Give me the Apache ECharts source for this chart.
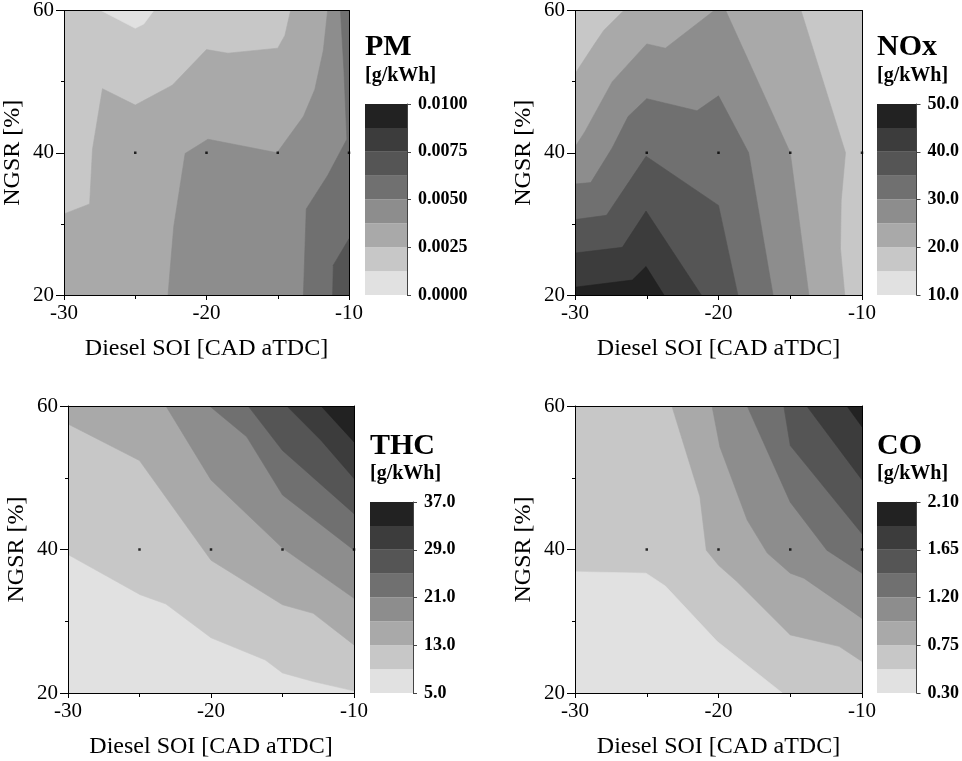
<!DOCTYPE html>
<html>
<head>
<meta charset="utf-8">
<script src="https://cdn.jsdelivr.net/npm/echarts@6/dist/echarts.min.js"></script>
<style>
html,body{margin:0;padding:0;background:#fff;}
#chart{width:962px;height:761px;}
</style>
</head>
<body>
<div id="chart"></div>
<script>
// ---------------- data ----------------
const X_VALUES = [-30, -20, -10];
const X_TICKS = ['-30', '-20', '-10'];
const Y_VALUES = [20, 40, 60];
const Y_TICKS = ['20', '40', '60'];
const X_NAME = 'Diesel SOI [CAD aTDC]';
const Y_NAME = 'NGSR [%]';
const UNIT = '[g/kWh]';
const MEASURED_POINTS = [[-25, 40], [-20, 40], [-15, 40], [-10, 40]];

// 8 grey levels, lightest (lowest value) first
const LEVEL_COLORS = ['#e1e1e1', '#c7c7c7', '#a9a9a9', '#8d8d8d', '#707070', '#555555', '#3c3c3c', '#222222'];

const PM_EDGES = [0, 0.00125, 0.0025, 0.00375, 0.005, 0.00625, 0.0075, 0.00875, 0.01];
const PM_TICKS = ['0.0000', '0.0025', '0.0050', '0.0075', '0.0100'];
const NOX_EDGES = [10, 15, 20, 25, 30, 35, 40, 45, 50];
const NOX_TICKS = ['10.0', '20.0', '30.0', '40.0', '50.0'];
const THC_EDGES = [5, 9, 13, 17, 21, 25, 29, 33, 37];
const THC_TICKS = ['5.0', '13.0', '21.0', '29.0', '37.0'];
const CO_EDGES = [0.3, 0.525, 0.75, 0.975, 1.2, 1.425, 1.65, 1.875, 2.1];
const CO_TICKS = ['0.30', '0.75', '1.20', '1.65', '2.10'];

// contour regions: [level, polygon in (SOI, NGSR)], painted in order
const PM_REGIONS = [
  [1, [[-30,20],[-10,20],[-10,60],[-30,60]]],
  [0, [[-27.4,60],[-25,57.5],[-24.4,58.1],[-23.7,60]]],
  [2, [[-30,31.4],[-28.2,32.8],[-28.0,40.5],[-27.3,49.0],[-25.0,46.7],[-22.4,49.5],[-20.0,54.5],[-18.5,54.0],[-15.0,54.7],[-14.5,56.5],[-14.1,60],[-10,60],[-10,20],[-30,20]]],
  [3, [[-22.7,20],[-22.3,29.6],[-21.5,39.9],[-19.9,41.9],[-15.05,40.0],[-13.2,45.1],[-12.4,48.9],[-11.8,54.4],[-11.5,60],[-10,60],[-10,20]]],
  [4, [[-13.2,20],[-13.0,32.1],[-11.5,36.8],[-10.15,41.9],[-10.35,51.4],[-10.6,60],[-10,60],[-10,20]]],
  [5, [[-11.15,20],[-11.1,24.2],[-10,27.9],[-10,20]]]
];

const NOX_REGIONS = [
  [1, [[-30,20],[-10,20],[-10,60],[-30,60]]],
  [2, [[-30,51.1],[-28.7,55.1],[-28.0,57.2],[-26.6,60],[-14.25,60],[-11.15,40],[-11.45,33.3],[-11.5,26.5],[-11.2,20],[-30,20]]],
  [3, [[-30,40.8],[-29.3,43.0],[-27.4,50.0],[-25.0,55.3],[-23.7,54.7],[-20.3,60],[-19.5,60],[-15.0,40.0],[-13.7,20],[-30,20]]],
  [4, [[-30,35.6],[-28.9,35.8],[-27.4,40.7],[-26.3,45.1],[-25.0,47.6],[-21.5,45.9],[-20.0,48.0],[-17.9,40.0],[-16.2,20],[-30,20]]],
  [5, [[-30,30.6],[-27.8,31.2],[-25.05,39.5],[-20.0,32.6],[-18.65,20],[-30,20]]],
  [6, [[-30,25.9],[-26.7,26.7],[-25.05,31.8],[-21.2,20],[-30,20]]],
  [7, [[-30,21.1],[-26.0,22.1],[-25.05,24.0],[-23.8,20],[-30,20]]]
];

const THC_REGIONS = [
  [0, [[-30,20],[-10,20],[-10,60],[-30,60]]],
  [1, [[-30,39.3],[-24.95,33.7],[-23.15,32.4],[-20.0,27.7],[-16.2,24.6],[-15.0,22.8],[-12.85,21.6],[-10,20.3],[-10,60],[-30,60]]],
  [2, [[-30,57.5],[-25.0,52.4],[-20.0,38.5],[-15.0,32.3],[-12.85,31.1],[-10,26.7],[-10,60],[-30,60]]],
  [3, [[-23.15,60],[-20.0,49.7],[-15.0,40.2],[-10,33.2],[-10,60]]],
  [4, [[-20.1,60],[-17.5,55.7],[-15.0,47.6],[-10,39.9],[-10,60]]],
  [5, [[-17.4,60],[-15.0,53.8],[-10,45.0],[-10,60]]],
  [6, [[-14.7,60],[-12.3,55.2],[-10,49.9],[-10,60]]],
  [7, [[-12.3,60],[-10,55.0],[-10,60]]]
];

const CO_REGIONS = [
  [1, [[-30,20],[-10,20],[-10,60],[-30,60]]],
  [0, [[-30,20],[-30,36.9],[-25.05,36.7],[-23.7,34.9],[-20.1,27.2],[-15.55,20]]],
  [2, [[-23.25,60],[-21.3,47.4],[-20.85,39.9],[-20.0,37.8],[-18.7,35.5],[-15.0,28.1],[-11.6,26.5],[-10,24.4],[-10,60]]],
  [3, [[-20.45,60],[-19.9,54.3],[-18.0,44.1],[-16.6,39.5],[-15.0,36.7],[-14.05,36.0],[-10,30.4],[-10,60]]],
  [4, [[-18.0,60],[-15.0,46.6],[-12.45,39.9],[-10,36.7],[-10,60]]],
  [5, [[-15.45,60],[-15.0,54.5],[-10,42.2],[-10,60]]],
  [6, [[-13.85,60],[-10,49.7],[-10,60]]],
  [7, [[-11.05,60],[-10,57.1],[-10,60]]]
];

// ---------------- layout ----------------
const FONT = 'Liberation Serif';
const PANELS = [
  { title: 'PM',  regions: PM_REGIONS,  edges: PM_EDGES,  ticks: PM_TICKS,
    grid: {left: 62,  top: 8,   width: 287, height: 287}, cb: {left: 365, top: 104, width: 42, height: 191}, tx: 365, ty: 47, uy: 76 },
  { title: 'NOx', regions: NOX_REGIONS, edges: NOX_EDGES, ticks: NOX_TICKS,
    grid: {left: 575, top: 8,   width: 287, height: 287}, cb: {left: 877, top: 104, width: 43, height: 191}, tx: 877, ty: 47, uy: 76 },
  { title: 'THC', regions: THC_REGIONS, edges: THC_EDGES, ticks: THC_TICKS,
    grid: {left: 68,  top: 406, width: 286, height: 287}, cb: {left: 370, top: 502, width: 43, height: 191}, tx: 370, ty: 446, uy: 474 },
  { title: 'CO',  regions: CO_REGIONS,  edges: CO_EDGES,  ticks: CO_TICKS,
    grid: {left: 575, top: 406, width: 287, height: 287}, cb: {left: 877, top: 502, width: 43, height: 191}, tx: 877, ty: 446, uy: 474 }
];

const grid = [], xAxis = [], yAxis = [], series = [], graphic = [];
const black = {color: '#000', width: 1};

PANELS.forEach((p, i) => {
  const g = grid.length;
  grid.push(Object.assign({containLabel: false}, p.grid));
  const cg = grid.length;
  grid.push(Object.assign({containLabel: false}, p.cb));

  const xb = xAxis.length;
  xAxis.push({
    gridIndex: g, type: 'value', position: 'bottom', min: -30, max: -10, interval: 10, z: 10,
    axisLine: {show: true, onZero: false, lineStyle: black},
    axisTick: {show: true, inside: false, length: 5, lineStyle: black},
    minorTick: {show: true, splitNumber: 2, length: 4, lineStyle: black},
    splitLine: {show: false},
    axisLabel: {margin: 8, fontFamily: FONT, fontSize: 21, color: '#000',
      formatter: v => X_TICKS[X_VALUES.indexOf(v)]},
    name: X_NAME, nameLocation: 'middle', nameGap: 42,
    nameTextStyle: {fontFamily: FONT, fontSize: 24, color: '#000'}
  });
  xAxis.push({
    gridIndex: g, type: 'value', position: 'top', min: -30, max: -10, interval: 10, z: 10,
    axisLine: {show: true, onZero: false, lineStyle: black},
    axisTick: {show: false}, axisLabel: {show: false}, splitLine: {show: false}
  });
  const yl = yAxis.length;
  yAxis.push({
    gridIndex: g, type: 'value', position: 'left', min: 20, max: 60, interval: 20, z: 10,
    axisLine: {show: true, onZero: false, lineStyle: black},
    axisTick: {show: true, inside: false, length: 8, lineStyle: black},
    minorTick: {show: true, splitNumber: 2, length: 3, lineStyle: black},
    splitLine: {show: false},
    axisLabel: {margin: 10, fontFamily: FONT, fontSize: 21, color: '#000',
      formatter: v => Y_TICKS[Y_VALUES.indexOf(v)]},
    name: Y_NAME, nameLocation: 'middle', nameGap: 39,
    nameTextStyle: {fontFamily: FONT, fontSize: 24, color: '#000'}
  });
  yAxis.push({
    gridIndex: g, type: 'value', position: 'right', min: 20, max: 60, interval: 20, z: 10,
    axisLine: {show: true, onZero: false, lineStyle: black},
    axisTick: {show: false}, axisLabel: {show: false}, splitLine: {show: false}
  });

  const regions = p.regions;
  series.push({
    type: 'custom', xAxisIndex: xb, yAxisIndex: yl, silent: true, clip: true, z: 2,
    data: regions.map(r => [r[1][0][0], r[1][0][1]]),
    renderItem: (params, api) => {
      const r = regions[params.dataIndex];
      const pts = r[1].map(pt => api.coord(pt));
      const c = LEVEL_COLORS[r[0]];
      return {type: 'polygon', shape: {points: pts}, style: {fill: c, stroke: c, lineWidth: 0.6}};
    }
  });
  series.push({
    type: 'scatter', xAxisIndex: xb, yAxisIndex: yl, silent: true, z: 5,
    symbol: 'rect', symbolSize: 2.5, itemStyle: {color: '#000'},
    data: MEASURED_POINTS
  });

  // colour bar
  const cx = xAxis.length;
  xAxis.push({gridIndex: cg, type: 'value', min: 0, max: 1, show: false});
  const cy = yAxis.length;
  const e = p.edges;
  yAxis.push({
    gridIndex: cg, type: 'value', position: 'right', min: e[0], max: e[8], interval: e[2] - e[0], z: 10,
    axisLine: {show: true, onZero: false, lineStyle: {color: '#444', width: 1}},
    axisTick: {show: true, inside: false, length: 4, lineStyle: {color: '#444'}},
    splitLine: {show: false},
    axisLabel: {margin: 11, fontFamily: FONT, fontSize: 18, fontWeight: 'bold', color: '#000',
      formatter: (v, idx) => p.ticks[idx]}
  });
  const bands = [];
  for (let k = 0; k < 8; k++) bands.push([e[k], e[k + 1]]);
  series.push({
    type: 'custom', xAxisIndex: cx, yAxisIndex: cy, silent: true,
    data: bands.map(b => [0, b[0], b[1]]),
    renderItem: (params, api) => {
      const p0 = api.coord([0, api.value(1)]);
      const p1 = api.coord([1, api.value(2)]);
      return {type: 'rect', shape: {x: p0[0], y: p1[1], width: p1[0] - p0[0], height: p0[1] - p1[1]},
        style: {fill: LEVEL_COLORS[params.dataIndex]}};
    }
  });

  graphic.push({type: 'text', x: p.tx, y: p.ty, silent: true,
    style: {text: p.title, fontFamily: FONT, fontSize: 30, fontWeight: 'bold', fill: '#000', verticalAlign: 'middle', align: 'left'}});
  graphic.push({type: 'text', x: p.tx, y: p.uy, silent: true,
    style: {text: UNIT, fontFamily: FONT, fontSize: 20, fontWeight: 'bold', fill: '#000', verticalAlign: 'middle', align: 'left'}});
});

const chart = echarts.init(document.getElementById('chart'), null, {renderer: 'canvas'});
chart.setOption({
  backgroundColor: '#fff',
  animation: false,
  grid, xAxis, yAxis, series, graphic
});
</script>
</body>
</html>
